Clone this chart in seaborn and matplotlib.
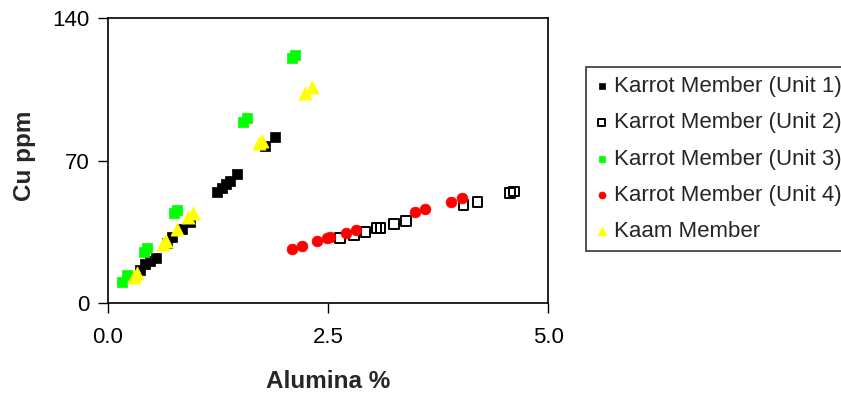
import matplotlib
matplotlib.use("Agg")
import matplotlib.pyplot as plt
import seaborn as sns
import pandas as pd

# Alumina (%) vs Cu (ppm) by stratigraphic unit
unit1_al = [0.30, 0.367, 0.423, 0.48, 0.548, 0.673, 0.73, 0.843, 0.934,
            1.241, 1.297, 1.343, 1.388, 1.468, 1.786, 1.90]
unit1_cu = [12.3, 16.2, 19.2, 20.6, 22.1, 29.5, 32.4, 36.3, 39.8,
            54.5, 56.5, 58.4, 59.9, 63.4, 77.1, 81.5]

unit2_al = [2.637, 2.798, 2.926, 3.049, 3.094, 3.252, 3.383, 4.036, 4.195, 4.566, 4.612]
unit2_cu = [31.8, 33.1, 35.0, 36.7, 36.9, 38.7, 40.3, 48.0, 49.6, 53.9, 54.7]

unit3_al = [0.159, 0.216, 0.412, 0.446, 0.753, 0.787, 1.541, 1.581, 2.092, 2.126]
unit3_cu = [10.5, 13.8, 25.0, 26.8, 44.0, 45.7, 89.1, 90.9, 120.3, 121.8]

unit4_al = [2.089, 2.202, 2.372, 2.486, 2.523, 2.699, 2.818, 3.488, 3.602, 3.897, 4.018]
unit4_cu = [26.5, 28.1, 30.7, 31.9, 32.6, 34.4, 36.1, 44.5, 46.2, 49.5, 51.4]

kaam_al = [0.30, 0.333, 0.628, 0.662, 0.787, 0.912, 0.968, 1.718, 1.752, 2.24, 2.319]
kaam_cu = [12.8, 14.7, 29.0, 30.5, 36.3, 42.2, 44.2, 78.6, 79.6, 103.1, 106.1]

series_names = ["Karrot Member (Unit 1)", "Karrot Member (Unit 2)",
                "Karrot Member (Unit 3)", "Karrot Member (Unit 4)", "Kaam Member"]
x_ticks = [0.0, 2.5, 5.0]
y_ticks = [0, 70, 140]

frames = []
for name, xs, ys in zip(series_names,
                        [unit1_al, unit2_al, unit3_al, unit4_al, kaam_al],
                        [unit1_cu, unit2_cu, unit3_cu, unit4_cu, kaam_cu]):
    frames.append(pd.DataFrame({"Alumina": xs, "Cu": ys, "Series": name}))
df = pd.concat(frames, ignore_index=True)

styles = {
    "Karrot Member (Unit 1)": dict(marker="s", s=52, color="black", edgecolor="black", linewidth=0.5),
    "Karrot Member (Unit 2)": dict(marker="s", s=48, color="black", facecolors="none",
                                   edgecolor="black", linewidth=1.4),
    "Karrot Member (Unit 3)": dict(marker="s", s=52, color="#00ff00", edgecolor="#00ff00", linewidth=0.5),
    "Karrot Member (Unit 4)": dict(marker="o", s=60, color="#ff0000", edgecolor="#ff0000", linewidth=0.5),
    "Kaam Member": dict(marker="^", s=90, color="#ffff00", edgecolor="#ffff00", linewidth=0.5),
}

sns.set_style("white")
plt.rcParams["font.family"] = ["Liberation Sans", "DejaVu Sans"]

fig = plt.figure(figsize=(8.41, 3.96), dpi=100)
ax = fig.add_axes([0.128, 0.2348, 0.524, 0.7197])

for name in series_names:
    sub = df[df["Series"] == name]
    sns.scatterplot(data=sub, x="Alumina", y="Cu", ax=ax, label=name, **styles[name])

ax.set_xlim(0, 5)
ax.set_ylim(0, 140)
ax.set_xticks(x_ticks)
ax.set_xticklabels([f"{v:.1f}" for v in x_ticks])
ax.set_yticks(y_ticks)
ax.set_yticklabels([str(v) for v in y_ticks])
ax.tick_params(axis="both", direction="out", length=7, width=1, labelsize=16,
               colors="black", pad=6, bottom=True, left=True)
ax.tick_params(axis="x", pad=10)
for sp in ax.spines.values():
    sp.set_color("black")
    sp.set_linewidth(1.2)

ax.set_xlabel("Alumina %", fontsize=17.5, fontweight="bold", labelpad=16)
ax.set_ylabel("Cu ppm", fontsize=17.5, fontweight="bold")
ax.yaxis.set_label_coords(-0.163, 0.515)

leg = ax.legend(loc="upper left", bbox_to_anchor=(586 / 841, 1 - 67 / 396),
                bbox_transform=fig.transFigure, borderaxespad=0,
                fontsize=16, markerscale=0.65, handlelength=0.6, handletextpad=0.25,
                labelspacing=0.69, borderpad=0.4, frameon=True, fancybox=False)
leg.get_frame().set_edgecolor("black")
leg.get_frame().set_linewidth(1.2)

fig.savefig("out.png", dpi=100)
